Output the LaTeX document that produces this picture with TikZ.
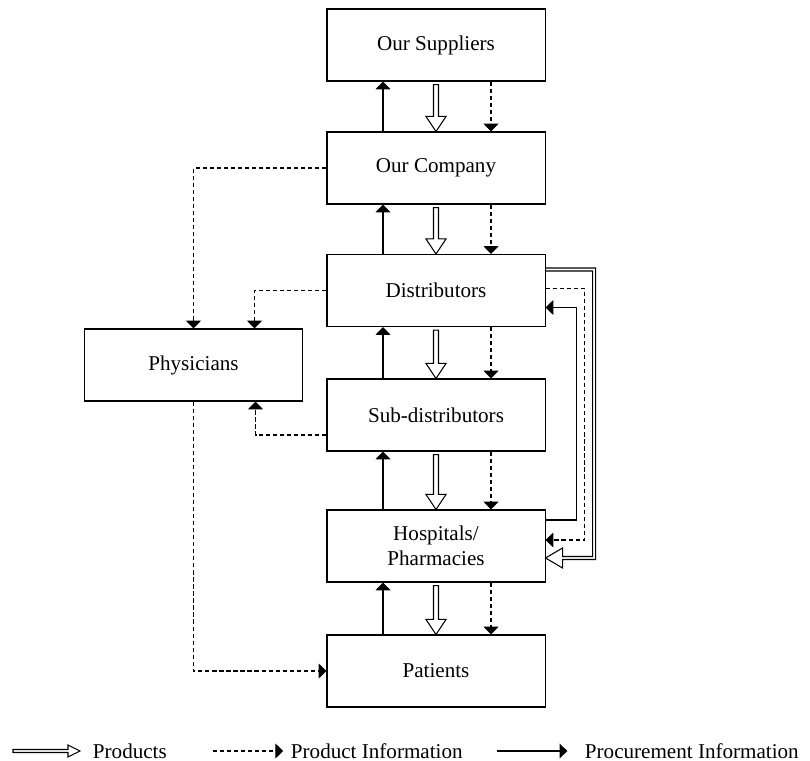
\documentclass[tikz,border=0pt]{standalone}
\usepackage{fontspec}
\setmainfont{Liberation Serif}
\usepackage{tikz}
\usetikzlibrary{calc, arrows.meta, positioning}

\tikzset{
  box/.style={draw, line width=0.75pt, minimum width=5.45cm, minimum height=1.8cm,
    align=center, font=\fontsize{15}{18}\selectfont},
  legend/.style={font=\fontsize{15}{18}\selectfont, anchor=west},
  proc/.style={line width=0.75pt, ->},
  info/.style={line width=0.75pt, dash pattern=on 3pt off 2pt, ->},
  prod/.style={line width=0.75pt, line join=miter},
}

% hollow product arrow from box #1 down to box #2
\newcommand{\prodarrow}[2]{%
  \draw[prod] ($(#1.south)+(-2.5,3)$) -- ($(#2.north)+(-2.5,-15)$) -- ++(-7.5,0)
    -- (#2.north) -- ($(#2.north)+(10,-15)$) -- ++(-7.5,0)
    -- ($(#1.south)+(2.5,3)$) -- cycle;}

\begin{document}
\begin{tikzpicture}[x=0.025cm, y=-0.025cm, >={Triangle[width=10.5pt, length=5.5pt]}]
    \useasboundingbox (0,0) rectangle (810,761);

    % 1. Boxes
    \node[box] (sup)  at (436,45)    {Our Suppliers};
    \node[box] (comp) at (436,168)   {Our Company};
    \node[box] (dist) at (436,290.5) {Distributors};
    \node[box] (sub)  at (436,415)   {Sub-distributors};
    \node[box] (hosp) at (436,546)   {Hospitals/\\Pharmacies};
    \node[box] (pat)  at (436,671)   {Patients};
    \node[box] (phys) at (193.5,365) {Physicians};

    % 2. Procurement information (upwards)
    \draw[proc] ($(comp.north)+(-53,0)$) -- ($(sup.south)+(-53,0)$);
    \draw[proc] ($(dist.north)+(-53,0)$) -- ($(comp.south)+(-53,0)$);
    \draw[proc] ($(sub.north)+(-53,0)$)  -- ($(dist.south)+(-53,0)$);
    \draw[proc] ($(hosp.north)+(-53,0)$) -- ($(sub.south)+(-53,0)$);
    \draw[proc] ($(pat.north)+(-53,0)$)  -- ($(hosp.south)+(-53,0)$);

    % 3. Products (downwards)
    \prodarrow{sup}{comp}
    \prodarrow{comp}{dist}
    \prodarrow{dist}{sub}
    \prodarrow{sub}{hosp}
    \prodarrow{hosp}{pat}

    % 4. Product information (downwards)
    \draw[info] ($(sup.south)+(55,0)$)  -- ($(comp.north)+(55,0)$);
    \draw[info] ($(comp.south)+(55,0)$) -- ($(dist.north)+(55,0)$);
    \draw[info] ($(dist.south)+(55,0)$) -- ($(sub.north)+(55,0)$);
    \draw[info] ($(sub.south)+(55,0)$)  -- ($(hosp.north)+(55,0)$);
    \draw[info] ($(hosp.south)+(55,0)$) -- ($(pat.north)+(55,0)$);

    % 5. Physicians
    \draw[info] (comp.west) -| (phys.north);
    \draw[info] (dist.west) -| ($(phys.north)+(61,0)$);
    \draw[info] ($(sub.west)+(0,20)$) -| ($(phys.south)+(62,0)$);
    \draw[info] (phys.south) |- (pat.west);

    % 6. Distributors <-> Hospitals/Pharmacies
    \draw[proc] ($(hosp.east)+(0,-26)$) -| ($(dist.east)+(31,17)$) -- ($(dist.east)+(0,17)$);
    \draw[info] ($(dist.east)+(0,-2)$) -| ($(hosp.east)+(39,-6)$) -- ($(hosp.east)+(0,-6)$);
    \draw[prod] ($(dist.east)+(0,-22.5)$) -- ++(50,0) |- ($(hosp.east)+(17,13.5)$)
        -- ++(0,8.5) -- ($(hosp.east)+(0,12)$) -- ($(hosp.east)+(17,2)$) -- ++(0,8.5)
        -| ($(dist.east)+(47,-19.5)$) -- ($(dist.east)+(0,-19.5)$);

    % 7. Legend
    \node[legend] (lprod) at (88,751)  {Products};
    \node[legend] (linfo) at (286,751) {Product Information};
    \node[legend] (lproc) at (580,751) {Procurement Information};
    \coordinate (lp) at (13,751);
    \coordinate (li) at (213,751);
    \coordinate (lr) at (497,751);
    \draw[prod] ($(lp)+(0,-1.5)$) -- ($(lprod.west)+(-20,-1.5)$) -- ++(0,-4.5)
        -- ($(lprod.west)+(-8,0)$) -- ($(lprod.west)+(-20,6)$) -- ++(0,-4.5)
        -- ($(lp)+(0,1.5)$) -- cycle;
    \draw[info, shorten >=2pt] (li) -- (linfo.west);
    \draw[proc, shorten >=9pt] (lr) -- (lproc.west);
\end{tikzpicture}
\end{document}
